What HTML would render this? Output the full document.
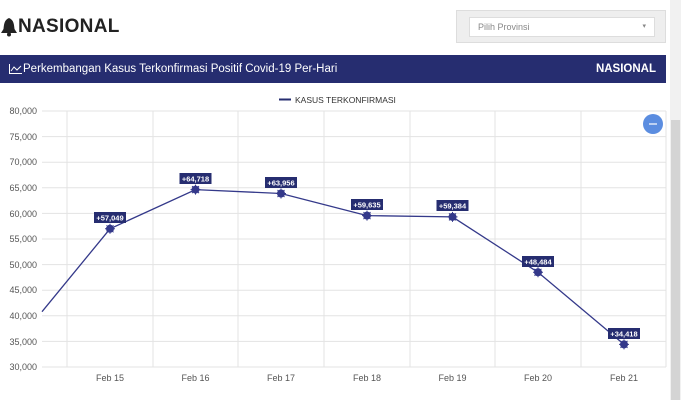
<!DOCTYPE html>
<html><head><meta charset="utf-8"><style>
body{margin:0;width:681px;height:400px;background:#fff;overflow:hidden;font-family:"Liberation Sans",sans-serif;position:relative}
.title{position:absolute;left:18px;top:16px;font-size:19px;font-weight:bold;color:#222;letter-spacing:0.3px}
.dd{position:absolute;left:456px;top:10px;width:210px;height:33px;background:#eee;border:1px solid #ddd;box-sizing:border-box}
.dd .in{position:absolute;left:12px;top:6px;width:186px;height:20px;background:#fff;border:1px solid #ddd;box-sizing:border-box;font-size:9px;color:#888;line-height:18px;padding-left:8px}
.ban{position:absolute;left:0;top:55px;width:666px;height:28px;background:#262d70;color:#fff;font-size:11.5px;line-height:28px}
.sb{position:absolute;left:670px;top:0;width:11px;height:400px;background:#f1f1f1}
.sb div{position:absolute;left:1px;top:120px;width:9px;height:280px;background:#d4d4d4}
</style></head><body>
<svg width="18" height="20" style="position:absolute;left:0;top:17px"><path d="M9,1 C4,3 4,8 3.5,12 L1,16 H17 L14.5,12 C14,8 14,3 9,1Z" fill="#222"/><circle cx="9" cy="17.5" r="2" fill="#222"/></svg>
<div class="title">NASIONAL</div>
<div class="dd"><div class="in">Pilih Provinsi<span style="position:absolute;right:8px;top:0;font-size:7px">▾</span></div></div>
<div class="ban"><svg width="13" height="10" style="position:absolute;left:9px;top:9px"><path d="M0.5,0V9.5H13" stroke="#fff" fill="none"/><path d="M2,7 L5,3 L8,6 L12,2" stroke="#fff" fill="none"/></svg><span style="position:absolute;left:23px">Perkembangan Kasus Terkonfirmasi Positif Covid-19 Per-Hari</span><span style="position:absolute;right:10px;font-weight:bold">NASIONAL</span></div>
<div class="sb"><div></div></div>
<svg width="681" height="400" style="position:absolute;left:0;top:0" font-family="Liberation Sans,sans-serif">
<g stroke="#e3e3e3" stroke-width="1">
<line x1="42" x2="666" y1="111" y2="111"/><line x1="42" x2="666" y1="136.6" y2="136.6"/><line x1="42" x2="666" y1="162.2" y2="162.2"/><line x1="42" x2="666" y1="187.8" y2="187.8"/><line x1="42" x2="666" y1="213.4" y2="213.4"/><line x1="42" x2="666" y1="239" y2="239"/><line x1="42" x2="666" y1="264.6" y2="264.6"/><line x1="42" x2="666" y1="290.2" y2="290.2"/><line x1="42" x2="666" y1="315.8" y2="315.8"/><line x1="42" x2="666" y1="341.4" y2="341.4"/><line x1="42" x2="666" y1="367" y2="367"/>
<line x1="67" x2="67" y1="111" y2="367"/><line x1="153" x2="153" y1="111" y2="367"/><line x1="238" x2="238" y1="111" y2="367"/><line x1="324" x2="324" y1="111" y2="367"/><line x1="410" x2="410" y1="111" y2="367"/><line x1="495" x2="495" y1="111" y2="367"/><line x1="581" x2="581" y1="111" y2="367"/><line x1="666" x2="666" y1="111" y2="367"/>
</g>
<g font-size="9" fill="#555" text-anchor="end">
<text x="37" y="114">80,000</text><text x="37" y="140">75,000</text><text x="37" y="165">70,000</text><text x="37" y="191">65,000</text><text x="37" y="217">60,000</text><text x="37" y="242">55,000</text><text x="37" y="268">50,000</text><text x="37" y="293">45,000</text><text x="37" y="319">40,000</text><text x="37" y="345">35,000</text><text x="37" y="370">30,000</text>
</g>
<g font-size="9" fill="#555" text-anchor="middle">
<text x="110" y="381">Feb 15</text><text x="195.5" y="381">Feb 16</text><text x="281" y="381">Feb 17</text><text x="367" y="381">Feb 18</text><text x="452.5" y="381">Feb 19</text><text x="538" y="381">Feb 20</text><text x="624" y="381">Feb 21</text>
</g>
<line x1="279" x2="291" y1="99.5" y2="99.5" stroke="#262d70" stroke-width="2"/>
<text x="295" y="103" font-size="8.5" fill="#333">KASUS TERKONFIRMASI</text>
<polyline fill="none" stroke="#34398a" stroke-width="1.3" points="42,311.7 110,228.8 195.5,189.6 281,193.5 367,215.6 452.5,216.9 538,272.3 624,344.4"/>
<g fill="#34398a" stroke="#34398a">
<g transform="translate(110,228.8)"><circle r="3.5"/><path d="M-5,0H5M0,-5V5M-3.5,-3.5L3.5,3.5M-3.5,3.5L3.5,-3.5" stroke-width="1"/></g>
<g transform="translate(195.5,189.6)"><circle r="3.5"/><path d="M-5,0H5M0,-5V5M-3.5,-3.5L3.5,3.5M-3.5,3.5L3.5,-3.5" stroke-width="1"/></g>
<g transform="translate(281,193.5)"><circle r="3.5"/><path d="M-5,0H5M0,-5V5M-3.5,-3.5L3.5,3.5M-3.5,3.5L3.5,-3.5" stroke-width="1"/></g>
<g transform="translate(367,215.6)"><circle r="3.5"/><path d="M-5,0H5M0,-5V5M-3.5,-3.5L3.5,3.5M-3.5,3.5L3.5,-3.5" stroke-width="1"/></g>
<g transform="translate(452.5,216.9)"><circle r="3.5"/><path d="M-5,0H5M0,-5V5M-3.5,-3.5L3.5,3.5M-3.5,3.5L3.5,-3.5" stroke-width="1"/></g>
<g transform="translate(538,272.3)"><circle r="3.5"/><path d="M-5,0H5M0,-5V5M-3.5,-3.5L3.5,3.5M-3.5,3.5L3.5,-3.5" stroke-width="1"/></g>
<g transform="translate(624,344.4)"><circle r="3.5"/><path d="M-5,0H5M0,-5V5M-3.5,-3.5L3.5,3.5M-3.5,3.5L3.5,-3.5" stroke-width="1"/></g>
</g>
<g font-size="7.5" font-weight="bold" fill="#fff" text-anchor="middle">
<rect x="94" y="212" width="32" height="11" fill="#262d70"/><text x="110" y="220.5">+57,049</text>
<rect x="179.5" y="173" width="32" height="11" fill="#262d70"/><text x="195.5" y="181.5">+64,718</text>
<rect x="265" y="177" width="32" height="11" fill="#262d70"/><text x="281" y="185.5">+63,956</text>
<rect x="351" y="199" width="32" height="11" fill="#262d70"/><text x="367" y="207.5">+59,635</text>
<rect x="436.5" y="200" width="32" height="11" fill="#262d70"/><text x="452.5" y="208.5">+59,384</text>
<rect x="522" y="256" width="32" height="11" fill="#262d70"/><text x="538" y="264.5">+48,484</text>
<rect x="608" y="328" width="32" height="11" fill="#262d70"/><text x="624" y="336.5">+34,418</text>
</g>
<circle cx="653" cy="124" r="10" fill="#5b8de0"/><line x1="649" x2="657" y1="124" y2="124" stroke="#fff" stroke-width="1.2"/>
</svg>
</body></html>
